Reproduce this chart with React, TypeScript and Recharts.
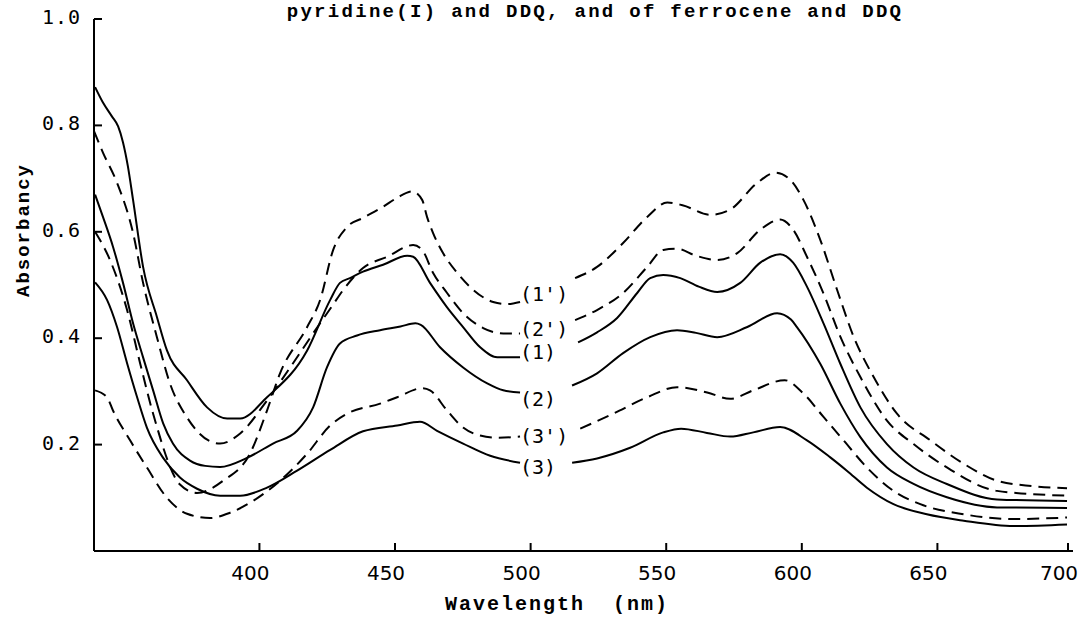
import { LineChart, Line, XAxis, YAxis, ReferenceDot } from 'recharts';

// [wavelength nm, absorbancy] — null marks the break where the curve label sits
type Pt = [number, number | null];

const curve1: Pt[] = [
  [339.4, 0.872], [342.3, 0.843], [345.6, 0.817], [347.9, 0.798], [349.7, 0.768], [351.5, 0.723],
  [353.4, 0.66], [357.1, 0.534], [362.2, 0.44], [365.9, 0.377], [373.3, 0.321], [380.7, 0.27],
  [388.1, 0.249], [392.9, 0.249], [402.8, 0.289], [417.6, 0.377], [426.1, 0.472], [429.7, 0.504],
  [433.4, 0.513], [438.2, 0.525], [445.6, 0.538], [454.5, 0.555], [456.7, 0.553], [462.9, 0.504],
  [469.2, 0.458], [475.1, 0.421], [481.4, 0.383], [487.7, 0.364], [496.1, 0.364],
  [506, null],
  [517.5, 0.392], [524.5, 0.411], [531.9, 0.438], [539.3, 0.485], [544.1, 0.513], [548.9, 0.519],
  [555.2, 0.513], [562, 0.497], [568.8, 0.487], [577.3, 0.504], [584.7, 0.542], [592.0, 0.558],
  [596.8, 0.542], [601.9, 0.497], [608.0, 0.428], [614.2, 0.352], [621.6, 0.27], [631.4, 0.201],
  [641.2, 0.157], [653.5, 0.126], [672.0, 0.097], [697.8, 0.094],
];

const curve2: Pt[] = [
  [339.4, 0.67], [342.3, 0.628], [346.0, 0.572], [349.7, 0.504], [353.4, 0.428], [357.1, 0.364],
  [360.8, 0.302], [364.5, 0.24], [368.1, 0.202], [374.4, 0.17], [380, 0.16], [385.5, 0.158],
  [395.4, 0.175], [405.0, 0.202], [413.9, 0.226], [419.8, 0.27], [424.9, 0.345], [429.7, 0.39],
  [436.0, 0.405], [444.5, 0.415], [452, 0.422], [457.5, 0.428], [459.5, 0.425], [466.6, 0.383],
  [475.1, 0.345], [484.0, 0.315], [489.9, 0.302], [496.1, 0.298],
  [506, null],
  [515.3, 0.311], [524.5, 0.334], [534.1, 0.372], [544.1, 0.402], [554.0, 0.415], [561, 0.41],
  [568.8, 0.402], [579.9, 0.421], [590.9, 0.447], [596, 0.435], [598.2, 0.421], [606.8, 0.352],
  [614.2, 0.277], [621.6, 0.214], [631.4, 0.157], [641.2, 0.126], [653.5, 0.101], [672.0, 0.082],
  [697.8, 0.081],
];

const curve3: Pt[] = [
  [339.4, 0.505], [343.8, 0.472], [347.5, 0.421], [351.2, 0.353], [354.9, 0.289], [358.5, 0.232],
  [364.5, 0.175], [370.7, 0.138], [377.0, 0.117], [385.5, 0.104], [392.9, 0.104], [402.8, 0.119],
  [413.9, 0.151], [426.1, 0.19], [438.2, 0.225], [450.8, 0.236], [459.2, 0.243], [465.5, 0.226],
  [475.1, 0.202], [485.1, 0.179], [496.1, 0.166],
  [506, null],
  [515.3, 0.166], [524.5, 0.174], [536.7, 0.194], [548.9, 0.223], [555.5, 0.23], [565, 0.222],
  [573.6, 0.215], [582.1, 0.223], [592.0, 0.233], [601.9, 0.208], [610.5, 0.176], [616.6, 0.151],
  [624.0, 0.119], [633.8, 0.088], [646.1, 0.069], [659.7, 0.057], [678.1, 0.047], [697.8, 0.05],
];

const curve1p: Pt[] = [
  [339.4, 0.6], [344.9, 0.547], [351.2, 0.453], [356.0, 0.353], [360.8, 0.258], [370.7, 0.125],
  [377.0, 0.109], [386.6, 0.132], [396.5, 0.183], [402.8, 0.264], [407.6, 0.334], [417.6, 0.421],
  [422.4, 0.472], [427.2, 0.566], [432.3, 0.609], [438.2, 0.626], [445.6, 0.647], [450.8, 0.664],
  [456.3, 0.676], [460.0, 0.66], [461.8, 0.628], [464.0, 0.598], [467.7, 0.56], [472.9, 0.523],
  [478.8, 0.491], [486.2, 0.468], [491.3, 0.464], [496.1, 0.468],
  [506, null],
  [516.4, 0.513], [524.5, 0.534], [534.1, 0.579], [543.0, 0.628], [550.4, 0.655], [556, 0.65],
  [566.2, 0.632], [573.6, 0.642], [583.6, 0.692], [590.2, 0.711], [595.7, 0.698], [600.6, 0.66],
  [606.8, 0.585], [613.0, 0.491], [619.1, 0.403], [626.5, 0.327], [635.1, 0.258], [647.4, 0.208],
  [659.7, 0.164], [672.0, 0.132], [685, 0.122], [697.8, 0.118],
];

const curve2p: Pt[] = [
  [339.0, 0.789], [342.3, 0.749], [347.5, 0.692], [353.4, 0.598], [357.1, 0.504], [362.2, 0.402],
  [367.0, 0.315], [373.3, 0.251], [382.9, 0.204], [385.5, 0.202], [392.9, 0.221], [402.8, 0.283],
  [412.4, 0.353], [419.8, 0.409], [427, 0.462], [430.8, 0.49], [438.2, 0.532], [447.1, 0.553],
  [456.7, 0.575], [460.0, 0.566], [464.0, 0.523], [469.2, 0.485], [475.1, 0.447], [482.5, 0.419],
  [489.9, 0.409], [496.1, 0.409],
  [506, null],
  [516.4, 0.434], [524.5, 0.453], [534.1, 0.485], [543.0, 0.534], [548.9, 0.566], [554.0, 0.568],
  [561, 0.555], [568.8, 0.547], [576.2, 0.56], [584.7, 0.604], [592.0, 0.623], [596.8, 0.604],
  [601.9, 0.553], [608.0, 0.484], [614.2, 0.403], [621.6, 0.327], [631.4, 0.245], [641.2, 0.201],
  [653.5, 0.157], [672.0, 0.113], [697.8, 0.104],
];

const curve3p: Pt[] = [
  [339.4, 0.302], [343.8, 0.289], [346.0, 0.264], [352.3, 0.208], [358.5, 0.157], [365.9, 0.1],
  [373.3, 0.07], [381.8, 0.062], [389.2, 0.072], [397.6, 0.094], [407.6, 0.132], [417.6, 0.183],
  [426.1, 0.236], [432.3, 0.258], [444.5, 0.277], [450.8, 0.289], [460.0, 0.306], [462.9, 0.302],
  [469.2, 0.264], [475.1, 0.232], [481.4, 0.217], [487.7, 0.213], [496.1, 0.215],
  [506, null],
  [518.3, 0.23], [530.4, 0.258], [543.0, 0.289], [554.0, 0.308], [565.1, 0.298], [573.6, 0.286],
  [582.1, 0.302], [593.7, 0.321], [600.6, 0.296], [608.0, 0.252], [615.4, 0.208], [624.0, 0.157],
  [633.8, 0.113], [643.7, 0.088], [659.7, 0.069], [678.1, 0.06], [697.8, 0.063],
];

const xTicks = [400, 450, 500, 550, 600, 650, 700];
const yTicks = [0.2, 0.4, 0.6, 0.8, 1.0];

const labelNames = ["(1')", "(2')", '(1)', '(2)', "(3')", '(3)'];
const labelValues = [0.483, 0.417, 0.374, 0.285, 0.217, 0.157];
const labelX = 496.1;

const series = [
  { key: 'c1', points: curve1, dashed: false },
  { key: 'c2', points: curve2, dashed: false },
  { key: 'c3', points: curve3, dashed: false },
  { key: 'c1p', points: curve1p, dashed: true },
  { key: 'c2p', points: curve2p, dashed: true },
  { key: 'c3p', points: curve3p, dashed: true },
];

const MONO = '"Liberation Mono", "DejaVu Sans Mono", monospace';

const XTick = ({ x, y, payload }: any) => (
  <g>
    <line x1={x} y1={y} x2={x} y2={y - 8} stroke="#000" strokeWidth={2} />
    <text x={x - 9} y={y + 29} textAnchor="middle" fontFamily="DejaVu Sans" fontSize={20} fill="#000">
      {payload.value}
    </text>
  </g>
);

const YTick = ({ x, y, payload }: any) => (
  <g>
    <line x1={x} y1={y} x2={x + 8} y2={y} stroke="#000" strokeWidth={2} />
    <text
      x={x - 13}
      y={y + 5}
      textAnchor="end"
      fontFamily='"DejaVu Sans Mono"'
      fontSize={20}
      letterSpacing={1}
      fill="#000"
    >
      {Number(payload.value).toFixed(1)}
    </text>
  </g>
);

export default function App() {
  return (
    <div style={{ position: 'absolute', left: 0, top: 0, width: 1080, height: 618, background: '#fff' }}>
      <LineChart width={1080} height={618} margin={{ top: 19, right: 7, bottom: 0, left: 0 }}>
        <XAxis
          type="number"
          dataKey="x"
          domain={[339, 700]}
          ticks={xTicks}
          allowDataOverflow
          height={67}
          tickSize={0}
          tickMargin={0}
          tickLine={false}
          axisLine={{ stroke: '#000', strokeWidth: 2 }}
          tick={<XTick />}
        />
        <YAxis
          type="number"
          domain={[0, 1]}
          ticks={yTicks}
          allowDataOverflow
          width={94}
          tickSize={0}
          tickMargin={0}
          tickLine={false}
          axisLine={{ stroke: '#000', strokeWidth: 2 }}
          tick={<YTick />}
        />
        {series.map((s) => (
          <Line
            key={s.key}
            data={s.points.map(([x, y]) => ({ x, y }))}
            dataKey="y"
            type="monotone"
            stroke="#000"
            strokeWidth={2}
            strokeDasharray={s.dashed ? '12 7' : undefined}
            dot={false}
            activeDot={false}
            connectNulls={false}
            isAnimationActive={false}
          />
        ))}
        {labelNames.map((name, i) => (
          <ReferenceDot
            key={name}
            x={labelX}
            y={labelValues[i]}
            r={1}
            shape={(p: any) => (
              <text
                x={p.cx}
                y={p.cy + 7}
                fontFamily='"DejaVu Sans Mono"'
                fontSize={20}
                fill="#000"
              >
                {name}
              </text>
            )}
          />
        ))}
      </LineChart>
      <svg
        width={1080}
        height={618}
        style={{ position: 'absolute', left: 0, top: 0, pointerEvents: 'none' }}
      >
        <text x={595} y={17} textAnchor="middle" fontFamily={MONO} fontWeight="bold" fontSize={19} letterSpacing={2.3}>
          pyridine(I) and DDQ, and of ferrocene and DDQ
        </text>
        <text
          x={0}
          y={0}
          transform="translate(29 230) rotate(-90)"
          textAnchor="middle"
          fontFamily={MONO}
          fontWeight="bold"
          fontSize={19}
          letterSpacing={2}
        >
          Absorbancy
        </text>
        <text x={557} y={610} textAnchor="middle" fontFamily={MONO} fontWeight="bold" fontSize={20} letterSpacing={2} style={{ whiteSpace: 'pre' }}>
          {'Wavelength  (nm)'}
        </text>
      </svg>
    </div>
  );
}
